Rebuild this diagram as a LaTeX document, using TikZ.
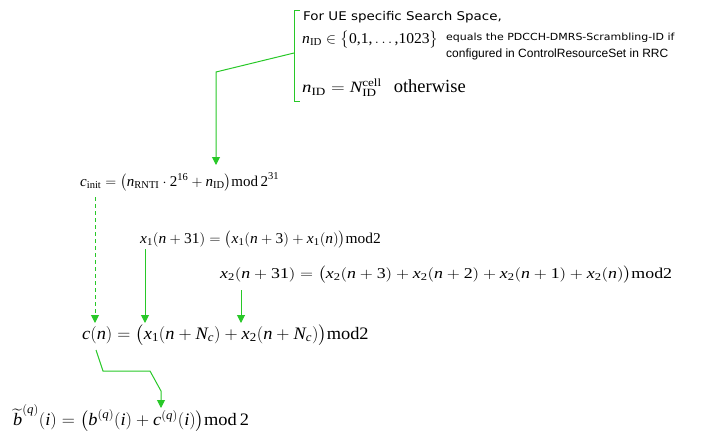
\documentclass[tikz,border=0pt]{standalone}
\usepackage{amsmath}
\usepackage{graphicx}
\usepackage{fontspec}
\setmainfont{Liberation Serif}
\newfontfamily\sansv[FakeStretch=1.12]{DejaVu Sans}
\newfontfamily\sansa{Liberation Sans}
\usetikzlibrary{arrows.meta}
\definecolor{lg}{RGB}{40,200,40}
\newcommand{\itx}[1]{\text{\itshape #1}}
\newcommand{\rmx}[1]{\text{\upshape #1}}
\tikzset{
  eq/.style={anchor=west, inner sep=0pt, font=\fontsize{15}{18}\selectfont},
  eqbig/.style={anchor=west, inner sep=0pt, font=\fontsize{17.5}{21}\selectfont},
  note/.style={anchor=west, inner sep=0pt},
  link/.style={draw=lg, line width=1pt},
  arr/.style={link, -{Triangle[width=8pt,length=8pt]}},
  dsh/.style={dash pattern=on 4pt off 3pt},
}
\begin{document}
\begin{tikzpicture}[x=1pt,y=-1pt]
\useasboundingbox (0,0) rectangle (721,437);
% notes
\node[note, font=\sansv\fontsize{12}{14}\selectfont] (ue) at (303,17) {For UE specific Search Space,};
\node[eq] (nid) at (302,40) {\scalebox{1.04}[1]{$\itx{n}_{\rmx{ID}} \in \bigl\{\rmx{0,1,}\ldots\rmx{,1023}\bigr\}$}};
\node[note, font=\sansv\fontsize{9.8}{12}\selectfont] (eqs) at (446,38) {equals the PDCCH-DMRS-Scrambling-ID if};
\node[note, font=\sansa\fontsize{12}{14}\selectfont] (cfg) at (446,54) {configured in ControlResourceSet in RRC};
\node[eq] (oth) at (302,88) {\scalebox{1.25}[1.05]{$\itx{n}_{\rmx{ID}} = \itx{N}_{\rmx{ID}}^{\rmx{cell}}$}\hspace{12pt}{\fontsize{18.5}{20}\selectfont otherwise}};
% bracket
\coordinate (bt) at (300,10);
\coordinate (btc) at (294,10);
\coordinate (bbc) at (294,101);
\coordinate (bb) at (300,101);
\draw[link] (bt) -- (btc) -- (bbc) -- (bb);
% equations
\node[eq] (ci) at (80,182) {$\itx{c}_{\rmx{init}} = \bigl(\itx{n}_{\rmx{RNTI}}\cdot \rmx{2}^{\rmx{16}} + \itx{n}_{\rmx{ID}}\bigr)\rmx{mod\,2}^{\rmx{31}}$};
\node[eq] (x1) at (140,240) {\scalebox{1.03}[1]{$\itx{x}_{\rmx{1}}(\itx{n}+\rmx{31}) = \bigl(\itx{x}_{\rmx{1}}(\itx{n}+\rmx{3}) + \itx{x}_{\rmx{1}}(\itx{n})\bigr)\rmx{mod2}$}};
\node[eq] (x2) at (220,275) {\scalebox{1.19}[1]{$\itx{x}_{\rmx{2}}(\itx{n}+\rmx{31}) = \bigl(\itx{x}_{\rmx{2}}(\itx{n}+\rmx{3}) + \itx{x}_{\rmx{2}}(\itx{n}+\rmx{2}) + \itx{x}_{\rmx{2}}(\itx{n}+\rmx{1}) + \itx{x}_{\rmx{2}}(\itx{n})\bigr)\rmx{mod2}$}};
\node[eqbig] (cn) at (82,335) {\scalebox{1.05}[1]{$\itx{c}(\itx{n}) = \bigl(\itx{x}_{\rmx{1}}(\itx{n}+\itx{N}_{\itx{c}}) + \itx{x}_{\rmx{2}}(\itx{n}+\itx{N}_{\itx{c}})\bigr)\rmx{mod2}$}};
\node[eqbig] (bq) at (13,418) {\scalebox{1.05}[1]{$\widetilde{\itx{b}}^{(\itx{q})}(\itx{i}) = \bigl(\itx{b}^{(\itx{q})}(\itx{i}) + \itx{c}^{(\itx{q})}(\itx{i})\bigr)\rmx{mod\,2}$}};
% connectors
\coordinate (bm) at (294,53);
\coordinate (k1) at (216,72);
\coordinate (t1) at (216,165);
\draw[arr] (bm) -- (k1) -- (t1);
\coordinate (d0) at (95,197);
\coordinate (d1) at (95,323);
\draw[arr, dsh] (d0) -- (d1);
\coordinate (a0) at (145,249);
\coordinate (a1) at (145,323);
\draw[arr] (a0) -- (a1);
\coordinate (e0) at (241,290);
\coordinate (e1) at (241,323);
\draw[arr] (e0) -- (e1);
\coordinate (c0) at (96,350);
\coordinate (c1) at (103,371);
\coordinate (c2) at (150,371);
\coordinate (c3) at (161,391);
\coordinate (c4) at (161,408);
\draw[arr] (c0) -- (c1) -- (c2) -- (c3) -- (c4);
\end{tikzpicture}
\end{document}
